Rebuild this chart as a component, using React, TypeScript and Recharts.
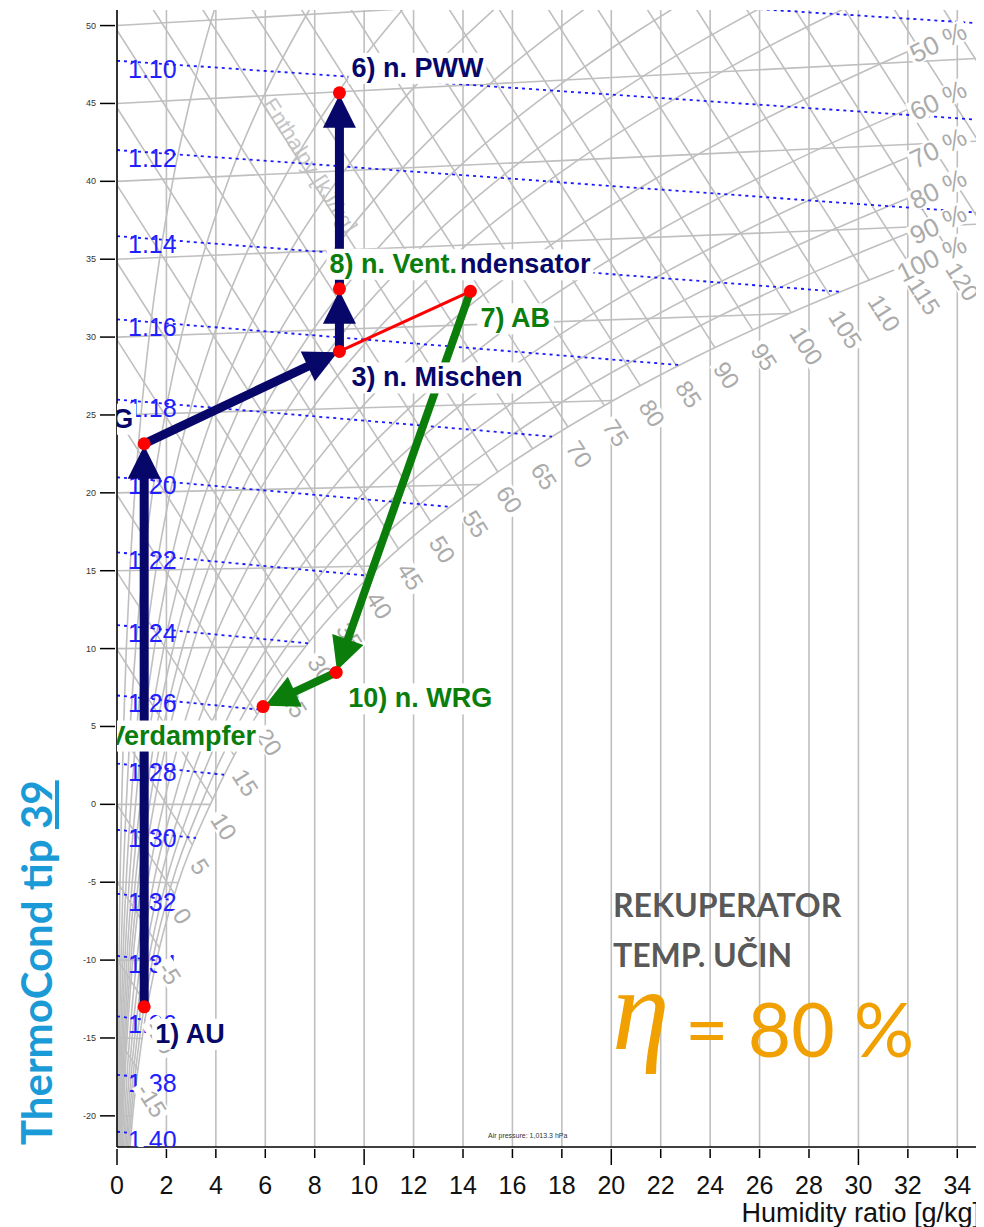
import React from 'react';
import { ComposedChart, Line, Scatter, XAxis, YAxis, CartesianGrid, ReferenceLine, Customized } from 'recharts';

const SANS = '"Liberation Sans", Arial, Helvetica, sans-serif';
const GRID = '#bfbfbf';
const NAVY = '#07076a';
const GREEN = '#0a7d0a';

const xTicks = [0, 2, 4, 6, 8, 10, 12, 14, 16, 18, 20, 22, 24, 26, 28, 30, 32, 34];
const yTicks = [-20, -15, -10, -5, 0, 5, 10, 15, 20, 25, 30, 35, 40, 45, 50];

// isotherms: start at x=0 on the temperature, end on saturation curve or right edge
const isoT = [-20, -15, -10, -5, 0, 5, 10, 15, 20, 25, 30, 35, 40, 45, 50];
const isoEndX = [0.633, 1.016, 1.6, 2.476, 3.775, 5.403, 7.631, 10.646, 14.7, 20.08, 27.2, 35, 35, 35, 35];
const isoEndY = [-20.02, -15.03, -10.03, -5.02, 0, 5.05, 10.14, 15.3, 20.54, 25.93, 31.51, 37.26, 42.59, 47.91, 53.24];

// enthalpy lines [kJ/kg]
const enthH = [-20, -15, -10, -5, 0, 5, 10, 15, 20, 25, 30, 35, 40, 45, 50, 55, 60, 65, 70, 75, 80, 85, 90, 95, 100, 105, 110, 115, 120, 125, 130, 135];
const enthY0 = [-19.88, -14.91, -9.94, -4.97, 0, 4.97, 9.94, 14.91, 19.88, 24.85, 29.82, 34.79, 39.76, 44.73, 49.7, 54.67, 59.64, 64.61, 69.58, 74.55, 79.52, 84.49, 89.46, 94.43, 99.4, 104.37, 109.34, 114.31, 119.28, 124.25, 129.22, 134.19];
const enthEndX = [0.56, 0.847, 1.22, 1.72, 2.33, 3.04, 3.86, 4.73, 5.685, 6.7, 7.78, 8.94, 10.15, 11.4, 12.7, 14.04, 15.41, 16.81, 18.24, 19.72, 21.18, 22.66, 24.2, 25.72, 27.28, 28.86, 30.45, 32.06, 33.6, 35, 35, 35];
const enthEndY = [-21.27, -17.03, -12.97, -9.23, -5.77, -2.59, 0.35, 3.16, 5.76, 8.2, 10.46, 12.56, 14.54, 16.39, 18.13, 19.77, 21.34, 22.83, 24.24, 25.6, 26.87, 28.1, 29.31, 30.48, 31.57, 32.63, 33.62, 34.69, 35.69, 37.24, 42.21, 47.18];

// density lines [kg/m3]
const rhoVal = [1.08, 1.1, 1.12, 1.14, 1.16, 1.18, 1.2, 1.22, 1.24, 1.26, 1.28, 1.3, 1.32, 1.34, 1.36, 1.38, 1.4];
const rhoY0 = [53.68, 47.74, 42.01, 36.48, 31.14, 25.99, 21.0, 16.18, 11.51, 6.99, 2.62, -1.63, -5.74, -9.73, -13.61, -17.37, -21.02];
const rhoEndX = [35, 35, 35, 29.25, 22.8, 17.6, 13.48, 10.24, 7.73, 5.8, 4.33, 3.19, 2.25, 1.6, 1.13, 0.8, 0.56];
const rhoEndY = [50.14, 43.94, 37.97, 32.91, 28.2, 23.61, 19.1, 14.67, 10.34, 6.07, 1.9, -2.16, -6.14, -10.02, -13.83, -17.48, -21.1];

// relative humidity curves [x g/kg, y]
const rh5 = [[0.026, -22], [0.032, -20], [0.051, -15], [0.08, -10], [0.123, -5], [0.188, 0], [0.268, 5], [0.377, 10], [0.524, 15.01], [0.719, 20.03], [0.974, 25.05], [1.306, 30.07], [1.731, 35.11], [2.275, 40.17], [2.967, 45.25], [3.815, 50.35], [4.21, 52.41]];
const rh10 = [[0.052, -22], [0.063, -20], [0.101, -15], [0.16, -10], [0.247, -5], [0.375, 0], [0.536, 5], [0.754, 10.01], [1.048, 15.03], [1.439, 20.05], [1.952, 25.09], [2.618, 30.15], [3.476, 35.23], [4.567, 40.34], [5.946, 45.5], [7.676, 50.71], [8.47, 52.81]];
const rh15 = [[0.079, -22], [0.095, -20], [0.152, -15], [0.239, -10], [0.37, -5], [0.563, 0], [0.804, 5.01], [1.133, 10.02], [1.574, 15.04], [2.162, 20.08], [2.932, 25.14], [3.934, 30.22], [5.226, 35.34], [6.874, 40.51], [8.96, 45.75], [11.58, 51.07], [12.8, 53.23]];
const rh20 = [[0.104, -22], [0.127, -20], [0.203, -15], [0.319, -10], [0.493, -5], [0.751, 0], [1.073, 5.01], [1.512, 10.03], [2.1, 15.06], [2.885, 20.11], [3.915, 25.18], [5.257, 30.29], [6.988, 35.45], [9.2, 40.68], [12.0, 46.0], [15.54, 51.44]];
const rh25 = [[0.131, -22], [0.158, -20], [0.254, -15], [0.399, -10], [0.617, -5], [0.939, 0], [1.342, 5.01], [1.89, 10.03], [2.628, 15.07], [3.612, 20.13], [4.901, 25.23], [6.585, 30.37], [8.76, 35.57], [11.54, 40.85], [15.09, 46.26], [19.56, 51.81]];
const rh30 = [[0.157, -22], [0.19, -20], [0.305, -15], [0.479, -10], [0.74, -5], [1.127, 0], [1.611, 5.01], [2.27, 10.04], [3.156, 15.09], [4.337, 20.16], [5.89, 25.27], [7.92, 30.44], [10.54, 35.68], [13.9, 41.03], [18.19, 46.51], [23.61, 52.18]];
const rh35 = [[0.183, -22], [0.222, -20], [0.355, -15], [0.559, -10], [0.864, -5], [1.315, 0], [1.88, 5.02], [2.65, 10.05], [3.686, 15.1], [5.066, 20.19], [6.88, 25.32], [9.26, 30.51], [12.33, 35.8], [16.28, 41.2], [21.31, 46.77], [27.72, 52.56]];
const rh40 = [[0.209, -22], [0.254, -20], [0.406, -15], [0.639, -10], [0.988, -5], [1.504, 0], [2.15, 5.02], [3.031, 10.06], [4.215, 15.12], [5.797, 20.21], [7.88, 25.36], [10.6, 30.59], [14.13, 35.91], [18.67, 41.38], [24.48, 47.04], [31.9, 52.95]];
const rh50 = [[0.262, -22], [0.317, -20], [0.508, -15], [0.799, -10], [1.236, -5], [1.882, 0], [2.69, 5.02], [3.793, 10.07], [5.278, 15.15], [7.263, 20.27], [9.88, 25.46], [13.31, 30.74], [17.77, 36.15], [23.52, 41.74], [30.92, 47.57], [32, 48.34]];
const rh60 = [[0.314, -22], [0.381, -20], [0.609, -15], [0.959, -10], [1.484, -5], [2.26, 0], [3.23, 5.03], [4.558, 10.08], [6.343, 15.18], [8.736, 20.32], [11.9, 25.55], [16.04, 30.89], [21.44, 36.39], [28.44, 42.1], [32, 44.62]];
const rh70 = [[0.366, -22], [0.444, -20], [0.711, -15], [1.119, -10], [1.731, -5], [2.639, 0], [3.772, 5.03], [5.323, 10.1], [7.415, 15.21], [10.21, 20.38], [13.92, 25.64], [18.79, 31.04], [25.17, 36.63], [29.0, 39.51], [32, 41.55]];
const rh80 = [[0.418, -22], [0.508, -20], [0.812, -15], [1.279, -10], [1.979, -5], [3.017, 0], [4.317, 5.04], [6.092, 10.11], [8.489, 15.24], [11.7, 20.43], [15.96, 25.74], [21.58, 31.2], [28.93, 36.87], [32, 38.92]];
const rh90 = [[0.47, -22], [0.571, -20], [0.914, -15], [1.439, -10], [2.227, -5], [3.395, 0], [4.859, 5.04], [6.859, 10.13], [9.563, 15.27], [13.2, 20.49], [18.01, 25.83], [24.38, 31.35], [29.1, 34.78], [32, 36.66]];
const rh100 = [[0.522, -22.02], [0.633, -20.02], [1.016, -15.03], [1.6, -10.03], [2.476, -5.02], [3.775, 0], [5.403, 5.05], [7.631, 10.14], [10.646, 15.3], [14.7, 20.54], [20.08, 25.93], [23.37, 28.69], [27.2, 31.51], [32, 34.66]];
const rhLevels = [5, 10, 15, 20, 25, 30, 35, 40, 50, 60, 70, 80, 90, 100];
const rhCurves = [rh5, rh10, rh15, rh20, rh25, rh30, rh35, rh40, rh50, rh60, rh70, rh80, rh90, rh100];
const rhLabelled = [50, 60, 70, 80, 90, 100];

// process points
const procName = ['1) AU', '2) n. WRG', '3) n. Mischen', '8) n. Vent.', '6) n. PWW', '7) AB', '10) n. WRG', '11) Verdampfer'];
const procX = [1.1, 1.1, 9.0, 9.0, 9.0, 14.3, 8.87, 5.91];
const procY = [-13.0, 23.15, 29.08, 33.1, 45.68, 32.94, 8.47, 6.28];
const supplyPath = [0, 1, 2, 3, 4];
const exhaustPath = [5, 6, 7];
const mixLine = [2, 5];
const extraLabel = { name: '9) Kondensator', at: 5 };

const labelStyle: Record<string, { dx: number; dy: number; anchor: 'start' | 'end'; color: string }> = {
  '1) AU': { dx: 11, dy: 36, anchor: 'start', color: NAVY },
  '2) n. WRG': { dx: -11, dy: -16, anchor: 'end', color: NAVY },
  '3) n. Mischen': { dx: 12, dy: 35, anchor: 'start', color: NAVY },
  '8) n. Vent.': { dx: -10, dy: -16, anchor: 'start', color: GREEN },
  '6) n. PWW': { dx: 12, dy: -16, anchor: 'start', color: NAVY },
  '7) AB': { dx: 10, dy: 36, anchor: 'start', color: GREEN },
  '9) Kondensator': { dx: 120, dy: -18, anchor: 'end', color: NAVY },
  '10) n. WRG': { dx: 12, dy: 35, anchor: 'start', color: GREEN },
  '11) Verdampfer': { dx: -7, dy: 38, anchor: 'end', color: GREEN },
};

const measureCtx = typeof document !== 'undefined' ? document.createElement('canvas').getContext('2d') : null;
const textWidth = (t: string, font: string) => {
  if (!measureCtx) return t.length * 14;
  measureCtx.font = font;
  return measureCtx.measureText(t).width;
};

const pt = (x: number, y: number) => ({ x, y });

const XTick = (p: any) => {
  const { x, y, payload } = p;
  const major = payload.value % 10 === 0;
  return (
    <g>
      <line x1={x} x2={x} y1={y} y2={y + (major ? 16 : 9)} stroke="#000" strokeWidth={1.5} />
      <text x={x} y={y + 45} textAnchor="middle" fontSize={25} fill="#111" fontFamily={SANS}>{payload.value}</text>
    </g>
  );
};

const YTick = (p: any) => {
  const { x, y, payload } = p;
  return (
    <g>
      <line x1={x - 15} x2={x} y1={y} y2={y} stroke="#000" strokeWidth={1.5} />
      <text x={x - 19} y={y + 3} textAnchor="end" fontSize={9} fill="#333" fontFamily={SANS}>{payload.value}</text>
    </g>
  );
};

const arrowLine = (color: string, width: number) => (props: any) => {
  const pts = props.points;
  if (!pts || pts.length < 2) return <g />;
  const a = pts[0];
  const b = pts[pts.length - 1];
  const len = Math.hypot(b.x - a.x, b.y - a.y) || 1;
  const ux = (b.x - a.x) / len;
  const uy = (b.y - a.y) / len;
  const tx = b.x - ux * 2;
  const ty = b.y - uy * 2;
  const bx = tx - ux * 33;
  const by = ty - uy * 33;
  const hw = 16.5;
  return (
    <g>
      <line x1={a.x} y1={a.y} x2={bx + ux * 2} y2={by + uy * 2} stroke={color} strokeWidth={width} />
      <polygon points={`${tx},${ty} ${bx - uy * hw},${by + ux * hw} ${bx + uy * hw},${by - ux * hw}`} fill={color} />
    </g>
  );
};

const EnthLabel = (p: any) => {
  const { cx, cy, payload } = p;
  const t = String(payload.label);
  const w = textWidth(t, `24px ${SANS}`);
  return (
    <g transform={`translate(${cx},${cy}) rotate(57.5)`}>
      <rect x={13} y={-5} width={w + 6} height={20} fill="#fff" />
      <text x={16} y={13.5} fontSize={24} fill="#ababab" fontFamily={SANS}>{t}</text>
    </g>
  );
};

const RhLabel = (p: any) => {
  const { cx, cy, payload } = p;
  const t = `${payload.label} %`;
  const w = textWidth(t, `26px ${SANS}`);
  return (
    <g transform={`translate(${cx + 61},${cy - 14}) rotate(-26)`}>
      <rect x={-w - 2} y={-20} width={w + 4} height={22} fill="#fff" />
      <text x={0} y={0} textAnchor="end" fontSize={26} fill="#ababab" fontFamily={SANS}>{t}</text>
    </g>
  );
};

const RhoLabel = (p: any) => {
  const { cx, cy, payload } = p;
  return (
    <text x={cx + 11} y={cy + 17} fontSize={25} fill="#1f1fff" fontFamily={SANS}>{payload.label}</text>
  );
};

const PointLabel = (p: any) => {
  const { cx, cy, payload } = p;
  const s = labelStyle[payload.name];
  const w = textWidth(payload.name, `bold 27px ${SANS}`);
  const tx = cx + s.dx;
  const ty = cy + s.dy;
  const left = s.anchor === 'start' ? tx : tx - w;
  return (
    <g>
      <rect x={left - 3} y={ty - 24} width={w + 6} height={31} fill="#fff" />
      <text x={tx} y={ty} textAnchor={s.anchor} fill={s.color} fontSize={27} fontWeight="bold" fontFamily={SANS}>{payload.name}</text>
    </g>
  );
};

const Dot = (p: any) => <circle cx={p.cx} cy={p.cy} r={6.5} fill="#ff0000" />;
const NoShape = () => <g />;

const Annotations = () => (
  <g fontFamily={SANS}>
    <text transform="translate(254,96) rotate(57.5)" fontSize={22} fill="#c4c4c4">Enthalpy [kJ/kg]</text>
    <text x={480} y={1130} fontSize={7} fill="#333">Air pressure: 1,013.3 hPa</text>
    <text x={972} y={1214} textAnchor="end" fontSize={27} fill="#111">Humidity ratio [g/kg]</text>
  </g>
);

export default function App() {
  const isoData = isoT.map((t, i) => [pt(0, t), pt(isoEndX[i], isoEndY[i])]);
  const enthData = enthH.map((h, i) => [pt(0, enthY0[i]), pt(enthEndX[i], enthEndY[i])]);
  const rhoData = rhoVal.map((r, i) => [pt(0, rhoY0[i]), pt(rhoEndX[i], rhoEndY[i])]);
  const rhData = rhCurves.map((c) => c.map(([x, y]) => pt(x, y)));

  const enthLabels = enthH
    .map((h, i) => ({ x: enthEndX[i], y: enthEndY[i], label: h }))
    .filter((d) => d.x < 35);
  const rhLabels = rhLevels
    .map((lv, i) => {
      const c = rhCurves[i];
      const last = c[c.length - 1];
      return { x: last[0], y: last[1], label: lv };
    })
    .filter((d) => rhLabelled.includes(d.label));
  const rhoLabels = rhoVal
    .map((r, i) => ({ x: 0, y: rhoY0[i], label: r.toFixed(2) }))
    .filter((d) => d.y < 51);

  const procPts = procName.map((n, i) => ({ x: procX[i], y: procY[i], name: n }));
  const labelPts = [
    { x: procX[extraLabel.at], y: procY[extraLabel.at], name: extraLabel.name },
    ...procPts,
  ];
  const segs = (path: number[]) =>
    path.slice(1).map((idx, k) => [procPts[path[k]], procPts[idx]]);

  return (
    <div style={{ position: 'relative', width: 976, height: 1219 }}>
      <ComposedChart width={976} height={1219} margin={{ top: 2, right: 2, bottom: 0, left: 0 }}>
        <CartesianGrid horizontal={false} stroke={GRID} strokeWidth={1.6} />
        <XAxis
          type="number"
          dataKey="x"
          domain={[0, 35]}
          ticks={xTicks}
          interval={0}
          allowDataOverflow
          height={80}
          tickSize={0}
          tickLine={false}
          tick={(p: any) => <XTick {...p} />}
          axisLine={{ stroke: '#000', strokeWidth: 1.5 }}
        />
        <YAxis
          type="number"
          dataKey="y"
          domain={[-22, 51]}
          ticks={yTicks}
          interval={0}
          allowDataOverflow
          width={109}
          tickSize={0}
          tickLine={false}
          tick={(p: any) => <YTick {...p} />}
          axisLine={{ stroke: '#000', strokeWidth: 1.5 }}
        />
        {rhData.map((d, i) => (
          <Line key={`rh${i}`} data={d} dataKey="y" type="monotone" stroke={GRID} strokeWidth={1.6} dot={false} activeDot={false} isAnimationActive={false} />
        ))}
        {isoData.map((d, i) => (
          <Line key={`iso${i}`} data={d} dataKey="y" type="linear" stroke={GRID} strokeWidth={1.6} dot={false} activeDot={false} isAnimationActive={false} />
        ))}
        {enthData.map((d, i) => (
          <Line key={`h${i}`} data={d} dataKey="y" type="linear" stroke={GRID} strokeWidth={1.6} dot={false} activeDot={false} isAnimationActive={false} />
        ))}
        {rhoData.map((d, i) => (
          <Line key={`rho${i}`} data={d} dataKey="y" type="linear" stroke="#1a1aff" strokeWidth={1.8} strokeDasharray="3 4" dot={false} activeDot={false} isAnimationActive={false} />
        ))}
        <Scatter data={rhoLabels} shape={(p: any) => <RhoLabel {...p} />} isAnimationActive={false} />
        <Scatter data={enthLabels} shape={(p: any) => <EnthLabel {...p} />} isAnimationActive={false} />
        <Scatter data={rhLabels} shape={(p: any) => <RhLabel {...p} />} isAnimationActive={false} />
        <Customized component={<Annotations />} />
        {segs(supplyPath).map((d, i) => (
          <Scatter key={`sa${i}`} data={d} line={arrowLine(NAVY, 9)} shape={NoShape} isAnimationActive={false} />
        ))}
        {segs(exhaustPath).map((d, i) => (
          <Scatter key={`ea${i}`} data={d} line={arrowLine(GREEN, 8)} shape={NoShape} isAnimationActive={false} />
        ))}
        <Line data={mixLine.map((i) => procPts[i])} dataKey="y" type="linear" stroke="#ff0000" strokeWidth={3} dot={false} activeDot={false} isAnimationActive={false} />
        <Scatter data={labelPts} shape={(p: any) => <PointLabel {...p} />} isAnimationActive={false} />
        <Scatter data={procPts} shape={(p: any) => <Dot {...p} />} isAnimationActive={false} />
        <ReferenceLine x={35} stroke="#000" strokeWidth={1.5} />
      </ComposedChart>

      <div
        style={{
          position: 'absolute', left: 6.5, top: 1137, transform: 'rotate(-90deg)', transformOrigin: '0 0',
          font: 'bold 42px Lato, sans-serif', lineHeight: '42px', color: '#1a9ad6', whiteSpace: 'nowrap',
        }}
      >
        ThermoCond tip <span style={{ textDecoration: 'underline' }}>39</span>
      </div>
      <div style={{ position: 'absolute', left: 605, top: 880.6, font: 'bold 32px Lato, sans-serif', lineHeight: '32px', color: '#595959', whiteSpace: 'nowrap' }}>
        REKUPERATOR
      </div>
      <div style={{ position: 'absolute', left: 605, top: 930.6, font: 'bold 32px Lato, sans-serif', lineHeight: '32px', color: '#595959', whiteSpace: 'nowrap' }}>
        TEMP. UČIN
      </div>
      <div style={{ position: 'absolute', left: 604, top: 944.3, font: 'italic 116px "Liberation Serif", serif', lineHeight: '116px', color: '#f0a000', whiteSpace: 'nowrap' }}>
        η
      </div>
      <div style={{ position: 'absolute', left: 677, top: 983, font: '75px Lato, sans-serif', lineHeight: '75px', color: '#f0a000', whiteSpace: 'nowrap' }}>
        = 80 %
      </div>
    </div>
  );
}
